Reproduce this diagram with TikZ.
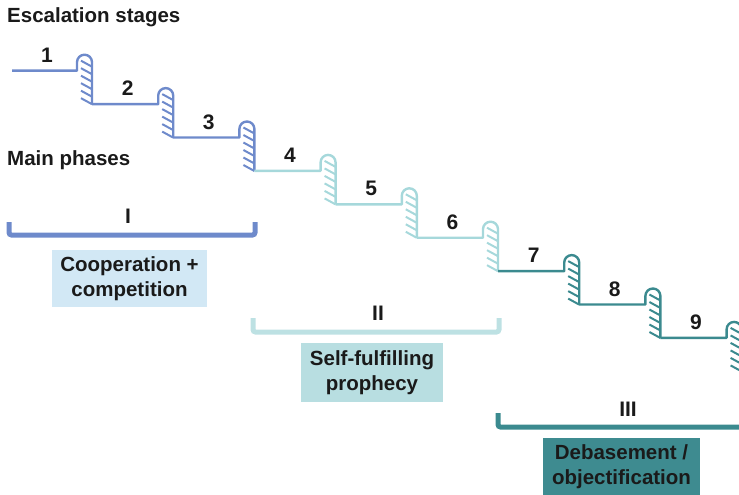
\documentclass[tikz,border=0pt]{standalone}
\usepackage{fontspec}
\setmainfont{Liberation Sans}
\definecolor{phaseA}{HTML}{6E8ACB}
\definecolor{phaseB}{HTML}{A6D8DB}
\definecolor{phaseBbar}{HTML}{BDE1E3}
\definecolor{phaseC}{HTML}{3B8A8F}
\definecolor{boxA}{HTML}{D2E8F5}
\definecolor{boxB}{HTML}{B8DEE1}
\definecolor{boxC}{HTML}{3E8B90}
\definecolor{ink}{HTML}{1A1A1A}
\begin{document}
\begin{tikzpicture}[x=1pt,y=-1pt]
\tikzset{
  stair/.style={line width=2.4pt, line join=round},
  hatchline/.style={line width=2pt},
  bigtext/.style={font=\bfseries\fontsize{20.5}{25}\selectfont, text=ink, inner sep=0pt},
  numtext/.style={font=\bfseries\fontsize{21}{24}\selectfont, text=ink, inner sep=0pt},
  romantext/.style={font=\bfseries\fontsize{21}{24}\selectfont, text=ink, inner sep=0pt},
  bracketline/.style={line width=5pt, rounded corners=2.5pt},
  phasebox/.style={inner sep=0pt, minimum width=155pt, minimum height=57pt,
    align=center, font=\bfseries\fontsize{20.5}{25}\selectfont, text=ink}
}
\useasboundingbox (0,0) rectangle (739,495);

% headings
\node[bigtext, anchor=west] (esc) at (7,17) {Escalation stages};
\node[bigtext, anchor=west] (mainph) at (7,160) {Main phases};

% staircase: nine steps, each ending in a hatched nosing
\foreach \k in {0,...,8}{
  \pgfmathsetmacro{\xa}{77+81.2*\k}
  \pgfmathsetmacro{\xb}{\xa+15}
  \pgfmathsetmacro{\ya}{70.7+33.4*\k}
  \pgfmathsetmacro{\yb}{\ya+33.4}
  \pgfmathsetmacro{\xs}{ifthenelse(\k==0,12,\xa-66.2)}
  \pgfmathsetmacro{\xl}{ifthenelse(\k==0,47,(\xs+\xa)/2+2.5)}
  \pgfmathtruncatemacro{\num}{\k+1}
  \ifnum\k<3 \def\stepcol{phaseA}\else\ifnum\k<6 \def\stepcol{phaseB}\else\def\stepcol{phaseC}\fi\fi
  \draw[stair, \stepcol] (\xs,\ya) -- (\xa,\ya) -- (\xa,\ya-8.5)
      arc[start angle=180, end angle=360, radius=7.5] -- (\xb,\yb);
  \foreach \j in {0,...,5}{
    \draw[hatchline, \stepcol] (\xb-11,\ya-10+7.5*\j) -- (\xb,\ya-4+7.5*\j);
  }
  \node[numtext] (n\num) at (\xl,\ya-15.5) {\num};
}

% phase brackets
\draw[bracketline, phaseA] (9,222) -- (9,235) -- (255,235) -- (255,222);
\node[romantext] (ph1) at (128,216) {I};
\draw[bracketline, phaseBbar] (253,318) -- (253,332) -- (499,332) -- (499,318);
\node[romantext] (ph2) at (378,313) {II};
\draw[bracketline, phaseC] (498,413) -- (498,427) -- (760,427);
\node[romantext] (ph3) at (628,409) {III};

% phase descriptions
\node[phasebox, fill=boxA] (d1) at (129.5,278.5) {Cooperation +\\competition};
\node[phasebox, fill=boxB, minimum width=142pt, minimum height=59pt] (d2) at (372,372.5) {Self-fulfilling\\prophecy};
\node[phasebox, fill=boxC, minimum width=157pt, minimum height=58pt] (d3) at (621.5,467) {Debasement /\\objectification};
\end{tikzpicture}
\end{document}
